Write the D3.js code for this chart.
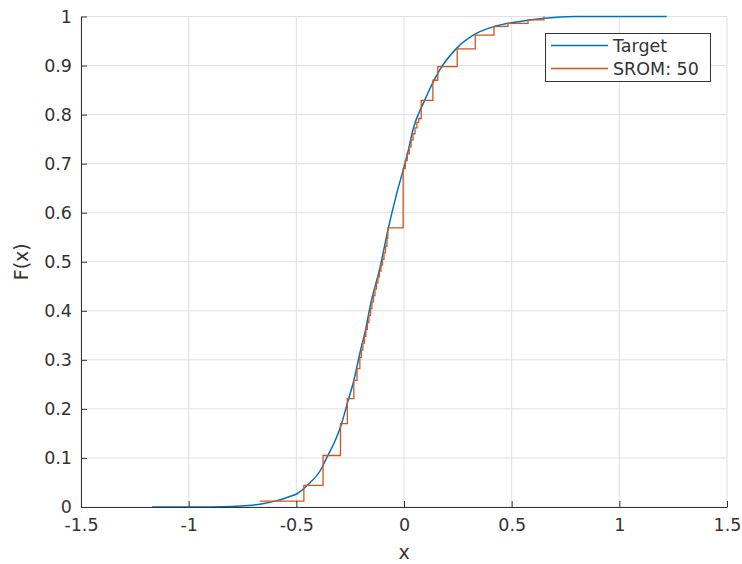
<!DOCTYPE html>
<html>
<head>
<meta charset="utf-8">
<script src="https://cdn.jsdelivr.net/npm/d3@7"></script>
<style>
  html, body { margin: 0; padding: 0; background: #fff; }
  svg { display: block; font-family: "DejaVu Sans", sans-serif; }
</style>
</head>
<body>
<svg id="chart" width="742" height="564"></svg>
<script>
// Target CDF, sampled along the curve
const targetX = [-1.17, -0.9, -0.8, -0.723, -0.65, -0.59, -0.54, -0.497, -0.45, -0.38, -0.365, -0.32, -0.295, -0.264, -0.233, -0.202, -0.179, -0.161, -0.151, -0.111, -0.073, -0.034, 0.0, 0.02, 0.041, 0.096, 0.166, 0.244, 0.338, 0.424, 0.54, 0.62, 0.696, 0.8, 1.22];
const targetF = [0, 0.0002, 0.001, 0.003, 0.007, 0.013, 0.02, 0.027, 0.044, 0.081, 0.095, 0.135, 0.163, 0.21, 0.258, 0.319, 0.36, 0.401, 0.421, 0.489, 0.568, 0.639, 0.693, 0.727, 0.768, 0.829, 0.891, 0.935, 0.966, 0.98, 0.99, 0.995, 0.998, 1.0, 1.0];

// SROM samples and cumulative probabilities (drawn as stairs)
const sromX = [-0.670, -0.465, -0.376, -0.295, -0.263, -0.233, -0.218, -0.205, -0.198, -0.191, -0.184, -0.177, -0.170, -0.163, -0.156, -0.149, -0.142, -0.135, -0.128, -0.121, -0.114, -0.107, -0.100, -0.093, -0.086, -0.079, -0.075, -0.004, 0.006, 0.015, 0.024, 0.033, 0.042, 0.051, 0.060, 0.068, 0.080, 0.134, 0.157, 0.247, 0.331, 0.418, 0.483, 0.576, 0.650];
const sromF = [0.012, 0.044, 0.105, 0.170, 0.221, 0.258, 0.282, 0.305, 0.320, 0.334, 0.348, 0.362, 0.376, 0.390, 0.404, 0.418, 0.431, 0.444, 0.457, 0.469, 0.481, 0.493, 0.505, 0.518, 0.532, 0.548, 0.569, 0.690, 0.706, 0.720, 0.734, 0.748, 0.761, 0.773, 0.784, 0.792, 0.829, 0.870, 0.898, 0.934, 0.962, 0.980, 0.986, 0.993, 1.000];

const xTicks = [-1.5, -1, -0.5, 0, 0.5, 1, 1.5];
const yTicks = [0, 0.1, 0.2, 0.3, 0.4, 0.5, 0.6, 0.7, 0.8, 0.9, 1];
const seriesNames = ["Target", "SROM: 50"];
const seriesColors = ["#0072BD", "#D95319"];

const svg = d3.select("#chart");
const plotLeft = 81, plotRight = 727, plotTop = 16.5, plotBottom = 507;
const x = d3.scaleLinear().domain([-1.5, 1.5]).range([plotLeft, plotRight]);
const y = d3.scaleLinear().domain([0, 1]).range([plotBottom, plotTop]);
const ink = "#333333";

// grid
const grid = svg.append("g");
grid.selectAll("line.gx").data(xTicks).join("line")
  .attr("x1", d => x(d)).attr("x2", d => x(d))
  .attr("y1", plotTop).attr("y2", plotBottom)
  .attr("stroke", "#e0e0e0").attr("stroke-width", 1);
grid.selectAll("line.gy").data(yTicks).join("line")
  .attr("x1", plotLeft).attr("x2", plotRight)
  .attr("y1", d => y(d)).attr("y2", d => y(d))
  .attr("stroke", "#e0e0e0").attr("stroke-width", 1);

// curves
const targetPts = targetX.map((v, i) => [v, targetF[i]]);
const sromPts = sromX.map((v, i) => [v, sromF[i]]);

svg.append("path")
  .datum(targetPts)
  .attr("fill", "none")
  .attr("stroke", seriesColors[0])
  .attr("stroke-width", 1.5)
  .attr("d", d3.line().x(d => x(d[0])).y(d => y(d[1])).curve(d3.curveMonotoneX));

svg.append("path")
  .datum(sromPts)
  .attr("fill", "none")
  .attr("stroke", seriesColors[1])
  .attr("stroke-width", 1.3)
  .attr("d", d3.line().x(d => x(d[0])).y(d => y(d[1])).curve(d3.curveStepAfter));

// axes (ticks point inward)
const fmt = d3.format("~g");
const xAxis = d3.axisBottom(x).tickValues(xTicks).tickSizeInner(-6).tickSizeOuter(0).tickPadding(12)
  .tickFormat(d => d < 0 ? "-" + fmt(-d) : fmt(d));
const yAxis = d3.axisLeft(y).tickValues(yTicks).tickSizeInner(-6).tickSizeOuter(0).tickPadding(9)
  .tickFormat(fmt);

const gx = svg.append("g").attr("transform", `translate(0,${plotBottom})`).call(xAxis);
const gy = svg.append("g").attr("transform", `translate(${plotLeft},0)`).call(yAxis);
[gx, gy].forEach(g => {
  g.select(".domain").attr("stroke", ink).attr("stroke-width", 1);
  g.selectAll(".tick line").attr("stroke", ink);
  g.selectAll(".tick text").attr("fill", ink)
    .style("font-family", "DejaVu Sans").style("font-size", "17.5px");
});

// axis labels
svg.append("text")
  .attr("x", (plotLeft + plotRight) / 2).attr("y", 559)
  .attr("text-anchor", "middle").attr("fill", ink)
  .style("font-size", "19px").text("x");
svg.append("text")
  .attr("transform", `translate(28,${(plotTop + plotBottom) / 2}) rotate(-90)`)
  .attr("text-anchor", "middle").attr("fill", ink)
  .style("font-size", "19px").text("F(x)");

// legend
const lg = svg.append("g");
lg.append("rect").attr("x", 545.5).attr("y", 33.5).attr("width", 165).attr("height", 48)
  .attr("fill", "#fff").attr("stroke", ink).attr("stroke-width", 1);
seriesNames.forEach((name, i) => {
  const ry = 45.5 + i * 23;
  lg.append("line").attr("x1", 551).attr("x2", 608).attr("y1", ry).attr("y2", ry)
    .attr("stroke", seriesColors[i]).attr("stroke-width", 1.5);
  lg.append("text").attr("x", 613).attr("y", ry).attr("dy", "0.35em")
    .attr("fill", ink).style("font-size", "17.5px").text(name);
});
</script>
</body>
</html>
